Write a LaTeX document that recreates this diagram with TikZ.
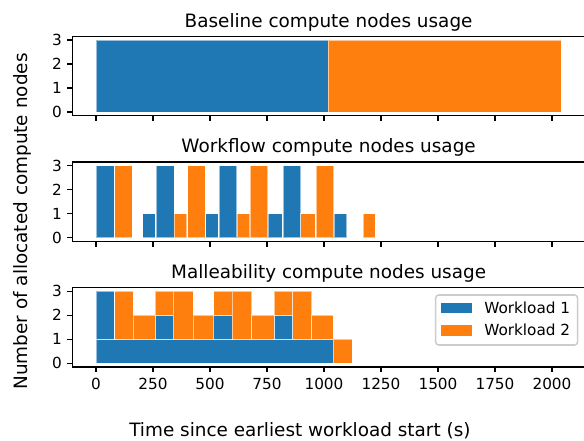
\documentclass[tikz,border=0pt]{standalone}
\usepackage{fontspec}
\setmainfont{DejaVu Sans}
\definecolor{cblue}{RGB}{31,119,180}
\definecolor{corange}{RGB}{255,127,14}
\definecolor{legedge}{RGB}{204,204,204}
\begin{document}
\begin{tikzpicture}[x=0.72pt,y=-0.72pt,
  spine/.style={draw=black, line width=0.88pt},
  tickmark/.style={draw=black, line width=0.88pt},
  ticklab/.style={inner sep=0pt, font=\fontsize{11}{13}\selectfont},
  titlelab/.style={inner sep=0pt, anchor=base, font=\fontsize{13.25}{16}\selectfont},
  axlab/.style={inner sep=0pt, font=\fontsize{13.25}{16}\selectfont},
  bbar/.style={fill=cblue, draw=white, draw opacity=0.55, line width=0.4pt},
  obar/.style={fill=corange, draw=white, draw opacity=0.55, line width=0.4pt}]
\useasboundingbox (0,0) rectangle (584,441);

% frames, ticks, titles
\foreach \T/\Y/\nm/\ttl in {36.3/111.9/base/Baseline compute nodes usage,
                             162/237.6/wf/Workflow compute nodes usage,
                             287.7/363.3/mal/Malleability compute nodes usage}{
  \node[titlelab] (title-\nm) at (328.6,{\T-9.2}) {\ttl};
  \foreach \k in {0,...,8}{
    \draw[tickmark] ({96+57*\k},{\T+79.2}) -- ({96+57*\k},{\T+79.2+5.35});
  }
  \foreach \k in {0,...,3}{
    \draw[tickmark] (72.7,{\Y-24*\k}) -- (67.35,{\Y-24*\k});
    \node[ticklab, anchor=east] (yt-\nm-\k) at (62,{\Y-24*\k}) {\k};
  }
}

% x tick labels (bottom panel only)
\foreach \k/\lab in {0/0,1/250,2/500,3/750,4/1000,5/1250,6/1500,7/1750,8/2000}{
  \node[ticklab, anchor=north] (xt-\k) at ({96+57*\k},377.6) {\lab};
}

% Baseline panel
\begin{scope}[shift={(0,111.9)}, y={(0pt,17.28pt)}]
  \path[bbar] (96,0) rectangle (328.3,3);
  \path[obar] (328.3,0) rectangle (561.3,3);
\end{scope}

% Workflow panel
\begin{scope}[shift={(0,237.6)}, y={(0pt,17.28pt)}]
  \path[bbar] (96,0) rectangle (114,3);
  \path[obar] (114.7,0) rectangle (132,3);
  \path[bbar] (142.7,0) rectangle (155,1);
  \path[bbar] (156.3,0) rectangle (174,3);
  \path[obar] (174,0) rectangle (186.7,1);
  \path[obar] (187.7,0) rectangle (205.3,3);
  \path[bbar] (205.7,0) rectangle (218,1);
  \path[bbar] (219,0) rectangle (236.7,3);
  \path[obar] (237,0) rectangle (249.7,1);
  \path[obar] (250.3,0) rectangle (267.7,3);
  \path[bbar] (268,0) rectangle (282.3,1);
  \path[bbar] (283,0) rectangle (300.7,3);
  \path[obar] (300.7,0) rectangle (315.3,1);
  \path[obar] (316,0) rectangle (333.7,3);
  \path[bbar] (334.3,0) rectangle (346.7,1);
  \path[obar] (363.3,0) rectangle (375.3,1);
\end{scope}

% Malleability panel
\begin{scope}[shift={(0,363.3)}, y={(0pt,17.28pt)}]
  \path[bbar] (96,0) rectangle (333.3,1);
  \path[bbar] (96,1) rectangle (114,3);
  \path[bbar] (155,1) rectangle (173.3,2);
  \path[bbar] (213.7,1) rectangle (232.3,2);
  \path[bbar] (274.3,1) rectangle (292.7,2);
  \path[obar] (114.7,1) rectangle (133.3,3);
  \path[obar] (133.3,1) rectangle (155,2);
  \path[obar] (155,2) rectangle (173.3,3);
  \path[obar] (173.3,1) rectangle (193.3,3);
  \path[obar] (193.3,1) rectangle (213.7,2);
  \path[obar] (213.7,2) rectangle (232.3,3);
  \path[obar] (232.3,1) rectangle (251.7,3);
  \path[obar] (251.7,1) rectangle (274.3,2);
  \path[obar] (274.3,2) rectangle (292.7,3);
  \path[obar] (292.7,1) rectangle (311.7,3);
  \path[obar] (311.7,1) rectangle (333.3,2);
  \path[obar] (333.3,0) rectangle (352.3,1);
\end{scope}

% spines on top of bars
\foreach \T in {36.3,162,287.7}{
  \draw[spine] (72.7,\T) rectangle (586,{\T+79.2});
}

% legend
\draw[draw=legedge, fill=white, fill opacity=0.8, line width=1.1pt, rounded corners=2.2pt]
  (435.7,295) rectangle (577.6,345);
\fill[cblue] (441.3,302.7) rectangle (471.7,313.3);
\fill[corange] (441.3,325) rectangle (471.7,335.7);
\node[ticklab, anchor=base west] (leg1) at (484,313.6) {Workload 1};
\node[ticklab, anchor=base west] (leg2) at (484,336) {Workload 2};

% axis labels
\node[axlab, anchor=base west] (xlab) at (129,436.5) {Time since earliest workload start (s)};
\node[axlab, rotate=90, anchor=base] (ylab) at (27,221.5) {Number of allocated compute nodes};
\end{tikzpicture}
\end{document}
